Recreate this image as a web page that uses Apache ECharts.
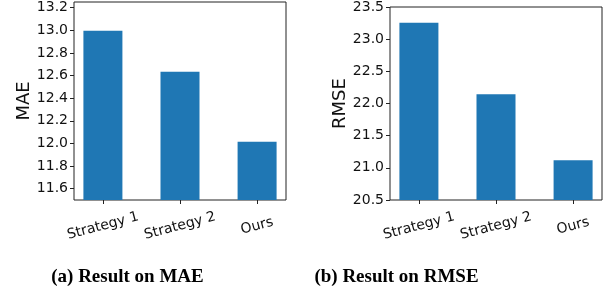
<!DOCTYPE html>
<html>
<head>
<meta charset="utf-8">
<script src="https://cdn.jsdelivr.net/npm/echarts@6/dist/echarts.min.js"></script>
<style>
  html, body { margin: 0; padding: 0; background: #fff; }
  #chart { width: 613px; height: 297px; }
</style>
</head>
<body>
<div id="chart"></div>
<script>
const categories = ['Strategy 1', 'Strategy 2', 'Ours']
const maeValues = [12.997, 12.634, 12.014]
const rmseValues = [23.254, 22.145, 21.119]
const maeTicks = [11.6, 11.8, 12.0, 12.2, 12.4, 12.6, 12.8, 13.0, 13.2]
const rmseTicks = [20.5, 21.0, 21.5, 22.0, 22.5, 23.0, 23.5]
const captions = ['(a) Result on MAE', '(b) Result on RMSE']

const BAR_COLOR = '#1f77b4'
const AXIS_COLOR = '#222'
const FONT = '"DejaVu Sans", sans-serif'
const catIdx = [0, 1, 2]

const xAxisFor = (gridIndex) => ({
  type: 'value',
  gridIndex,
  min: -0.375,
  max: 2.375,
  axisLine: { show: false, onZero: false },
  splitLine: { show: false },
  axisTick: { show: true, inside: false, length: 4, customValues: catIdx, lineStyle: { color: AXIS_COLOR } },
  axisLabel: {
    customValues: catIdx,
    formatter: (v) => categories[v] || '',
    rotate: 15,
    align: 'center',
    verticalAlign: 'middle',
    margin: 26,
    color: '#111',
    fontFamily: FONT,
    fontSize: 14,
  },
})

const yAxisFor = (gridIndex, min, max, ticks, name) => ({
  type: 'value',
  gridIndex,
  min,
  max,
  name,
  nameLocation: 'middle',
  nameRotate: 90,
  nameGap: 41,
  nameTextStyle: { color: '#111', fontFamily: FONT, fontSize: 18 },
  axisLine: { show: false, onZero: false },
  splitLine: { show: false },
  axisTick: { show: true, inside: false, length: 4, customValues: ticks, lineStyle: { color: AXIS_COLOR } },
  axisLabel: {
    customValues: ticks,
    formatter: (v) => v.toFixed(1),
    margin: 6,
    color: '#111',
    fontFamily: FONT,
    fontSize: 14,
  },
})

const barSeries = (idx, values) => ({
  type: 'bar',
  xAxisIndex: idx,
  yAxisIndex: idx,
  barWidth: 39,
  itemStyle: { color: BAR_COLOR },
  data: values.map((v, i) => [catIdx[i], v]),
})

const chart = echarts.init(document.getElementById('chart'), null, { renderer: 'canvas' })
chart.setOption({
  animation: false,
  backgroundColor: '#fff',
  grid: [
    { left: 74, top: 2, width: 212, height: 198, show: true, borderColor: AXIS_COLOR, borderWidth: 1, backgroundColor: 'transparent' },
    { left: 390, top: 7, width: 212, height: 193, show: true, borderColor: AXIS_COLOR, borderWidth: 1, backgroundColor: 'transparent' },
  ],
  xAxis: [xAxisFor(0), xAxisFor(1)],
  yAxis: [
    yAxisFor(0, 11.5, 13.25, maeTicks, 'MAE'),
    yAxisFor(1, 20.5, 23.5, rmseTicks, 'RMSE'),
  ],
  series: [barSeries(0, maeValues), barSeries(1, rmseValues)],
  graphic: [
    { type: 'text', x: 127.5, y: 277, style: { text: captions[0], font: 'bold 19px "Liberation Serif", serif', align: 'center', verticalAlign: 'middle', fill: '#000' } },
    { type: 'text', x: 396.5, y: 277, style: { text: captions[1], font: 'bold 19px "Liberation Serif", serif', align: 'center', verticalAlign: 'middle', fill: '#000' } },
  ],
})
</script>
</body>
</html>
